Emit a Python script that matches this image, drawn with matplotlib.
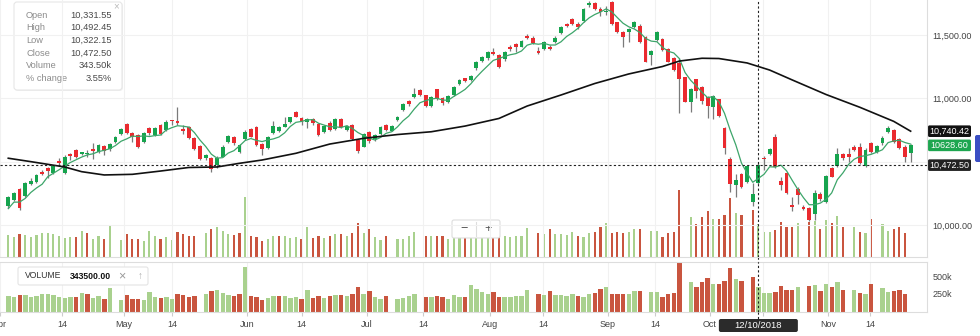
import matplotlib.pyplot as plt
from matplotlib.patches import FancyBboxPatch
import numpy as np
import pandas as pd

plt.rcParams['font.family'] = ['Liberation Sans', 'DejaVu Sans']
plt.rcParams['font.size'] = 6.5

# NIFTY 50 daily candles, 2 Apr 2018 - 26 Nov 2018
opens = [10150, 10197, 10282, 10229, 10324, 10342, 10421, 10448, 10413, 10505,
         10408, 10563, 10592, 10558, 10560, 10600, 10579, 10624, 10598, 10658,
         10718, 10795, 10724, 10710, 10658, 10763, 10710, 10789, 10750, 10826,
         10821, 10758, 10776, 10684, 10624, 10526, 10526, 10474, 10539, 10658,
         10692, 10579, 10676, 10755, 10776, 10637, 10605, 10729, 10744, 10776,
         10815, 10890, 10842, 10815, 10834, 10797, 10736, 10807, 10755, 10834,
         10750, 10789, 10671, 10618, 10732, 10679, 10718, 10789, 10744, 10829,
         10908, 10975, 11013, 11066, 11024, 10939, 11071, 11005, 10973, 11026,
         11113, 11158, 11145, 11237, 11297, 11316, 11368, 11342, 11308, 11407,
         11426, 11407, 11494, 11478, 11376, 11389, 11407, 11442, 11513, 11584,
         11626, 11584, 11613, 11734, 11755, 11705, 11679, 11763, 11600, 11521,
         11521, 11565, 11573, 11482, 11342, 11460, 11468, 11387, 11316, 11276,
         11166, 10973, 11150, 11092, 11013, 10934, 10992, 10763, 10521, 10316,
         10400, 10342, 10179, 10331.55, 10531, 10560, 10697, 10347, 10408, 10158,
         10284, 10142, 10132, 10087, 10245, 10184, 10448, 10466, 10560, 10560,
         10618, 10613, 10466, 10645, 10579, 10645, 10736, 10750, 10676, 10618,
         10566]
highs = [10229, 10263, 10290, 10339, 10369, 10403, 10434, 10458, 10474, 10526,
         10549, 10571, 10600, 10580, 10592, 10645, 10643, 10631, 10647, 10706,
         10766, 10803, 10734, 10718, 10734, 10770, 10770, 10797, 10825, 10832,
         10934, 10789, 10781, 10691, 10631, 10564, 10537, 10541, 10628, 10710,
         10703, 10639, 10746, 10766, 10785, 10647, 10699, 10823, 10785, 10855,
         10856, 10896, 10852, 10845, 10841, 10805, 10789, 10817, 10841, 10841,
         10789, 10797, 10679, 10726, 10738, 10718, 10785, 10797, 10789, 10864,
         10963, 10983, 11079, 11073, 11030, 11022, 11077, 11014, 11026, 11101,
         11152, 11164, 11184, 11298, 11334, 11373, 11395, 11350, 11377, 11417,
         11437, 11464, 11504, 11488, 11407, 11452, 11417, 11488, 11571, 11592,
         11634, 11600, 11713, 11768, 11763, 11723, 11731, 11768, 11606, 11531,
         11555, 11610, 11583, 11492, 11385, 11531, 11476, 11397, 11326, 11322,
         11172, 11081, 11156, 11101, 11022, 11026, 10998, 10774, 10539, 10403,
         10410, 10474, 10334, 10492.45, 10541, 10608, 10718, 10381, 10418, 10223,
         10302, 10158, 10142, 10276, 10257, 10395, 10458, 10605, 10572, 10605,
         10628, 10645, 10604, 10655, 10631, 10699, 10785, 10758, 10687, 10628,
         10639]
lows = [10134, 10189, 10118, 10221, 10316, 10332, 10395, 10371, 10403, 10466,
        10403, 10513, 10529, 10549, 10539, 10521, 10572, 10553, 10588, 10651,
        10710, 10718, 10658, 10608, 10651, 10710, 10703, 10710, 10742, 10793,
        10793, 10718, 10679, 10592, 10513, 10517, 10421, 10450, 10533, 10647,
        10635, 10568, 10667, 10691, 10624, 10553, 10596, 10722, 10734, 10770,
        10809, 10849, 10789, 10763, 10793, 10703, 10730, 10742, 10746, 10762,
        10742, 10671, 10571, 10612, 10647, 10663, 10710, 10742, 10738, 10821,
        10900, 10939, 11006, 11018, 10931, 10931, 10987, 10951, 10963, 11018,
        11105, 11129, 11137, 11227, 11287, 11306, 11342, 11239, 11298, 11377,
        11368, 11401, 11472, 11425, 11350, 11381, 11381, 11433, 11504, 11563,
        11579, 11547, 11606, 11723, 11695, 11650, 11658, 11579, 11513, 11403,
        11447, 11557, 11440, 11283, 11263, 11452, 11373, 11283, 11216, 10882,
        10967, 10890, 11002, 10955, 10845, 10834, 10856, 10560, 10263, 10219,
        10292, 10332, 10150, 10322.15, 10434, 10553, 10448, 10276, 10241, 10111,
        10166, 10118, 10028, 10039, 10193, 10174, 10379, 10458, 10513, 10500,
        10584, 10478, 10458, 10572, 10572, 10635, 10730, 10651, 10596, 10500,
        10500]
closes = [10219, 10255, 10132, 10329, 10350, 10395, 10403, 10429, 10466, 10487,
          10539, 10545, 10534, 10575, 10572, 10584, 10631, 10586, 10637, 10697,
          10755, 10724, 10697, 10618, 10724, 10728, 10763, 10718, 10815, 10818,
          10803, 10744, 10684, 10598, 10521, 10553, 10440, 10526, 10618, 10703,
          10645, 10631, 10736, 10697, 10631, 10598, 10692, 10780, 10772, 10795,
          10850, 10855, 10815, 10834, 10803, 10710, 10781, 10750, 10834, 10771,
          10781, 10676, 10586, 10718, 10665, 10710, 10776, 10750, 10781, 10855,
          10952, 10958, 11034, 11026, 10939, 11013, 10992, 10961, 11018, 11092,
          11145, 11137, 11176, 11284, 11324, 11363, 11350, 11249, 11368, 11389,
          11407, 11455, 11478, 11434, 11360, 11442, 11389, 11478, 11560, 11571,
          11587, 11565, 11703, 11750, 11703, 11684, 11689, 11587, 11521, 11482,
          11545, 11600, 11447, 11289, 11376, 11521, 11381, 11289, 11223, 11152,
          10973, 11073, 11060, 10981, 10939, 11018, 10863, 10605, 10321, 10355,
          10302, 10466, 10242, 10472.50, 10519, 10598, 10455, 10316, 10250, 10144,
          10237, 10129, 10039, 10255, 10205, 10387, 10380, 10560, 10526, 10539,
          10592, 10487, 10592, 10579, 10624, 10689, 10768, 10658, 10605, 10534,
          10628.60]
# traded volume in thousands (0 where none was reported)
volumes = [226, 202, 235, 230, 202, 226, 249, 249, 240, 212,
           193, 202, 202, 268, 244, 188, 221, 183, 334, 0,
           169, 235, 183, 183, 165, 273, 212, 188, 202, 174,
           254, 235, 212, 221, 0, 244, 291, 306, 268, 235,
           226, 249, 625, 221, 207, 165, 188, 221, 216, 216,
           193, 207, 183, 306, 193, 221, 197, 221, 235, 235,
           221, 249, 353, 244, 291, 202, 174, 221, 0, 179,
           188, 221, 254, 0, 212, 212, 221, 212, 179, 235,
           207, 207, 376, 315, 282, 249, 273, 212, 212, 202,
           221, 216, 301, 0, 244, 235, 287, 235, 235, 226,
           254, 221, 202, 244, 259, 315, 353, 244, 254, 249,
           254, 287, 291, 0, 273, 273, 202, 249, 259, 705,
           0, 414, 343, 414, 479, 395, 390, 432, 611, 461,
           432, 0, 494, 343.5, 263, 263, 282, 362, 306, 306,
           353, 0, 362, 376, 291, 385, 353, 423, 306, 0,
           306, 263, 249, 395, 0, 338, 273, 291, 306, 244,
           0]
# closes of 23-28 Mar, needed for the first 5-day averages
lead_closes = [9998.05, 10130.65, 10184.15, 10113.70]

# long moving average (black line), sampled at these bars
ma_long_at = [0, 4, 10, 13, 17, 22, 27, 32, 37, 41, 45, 51, 57, 63, 69, 75, 81,
              87, 92, 98, 104, 110, 116, 119, 123, 126, 131, 135, 139, 145, 151,
              157, 160]
ma_long = [10527, 10500, 10458, 10421, 10395, 10400, 10426, 10454, 10458, 10487,
           10513, 10566, 10639, 10684, 10714, 10736, 10781, 10841, 10939, 11026,
           11117, 11192, 11251, 11294, 11316, 11314, 11279, 11223, 11145, 11030,
           10929, 10818, 10740.42]

tick_pos = [-1.5, 9.5, 20.5, 29, 42.3, 52, 63.6, 73.5, 85.4, 94.8, 106.3, 114.7,
            124.4, 133.9, 145.3, 152.8]
# the Oct 14 label sits under the crosshair date chip, so it is left blank
tick_labels = ['Apr', '14', 'May', '14', 'Jun', '14', 'Jul', '14', 'Aug', '14',
               'Sep', '14', 'Oct', '', 'Nov', '14']
price_ticks = [10000, 11000, 11500]
hover = 133          # bar under the crosshair (12 Oct)
hover_date = '12/10/2018'
hover_change = '3.55%'

GREEN = '#16a44e'
RED = '#ea2a2f'
WICK = '#7a7a7a'
VGREEN = '#a9d18e'
VRED = '#c9553f'
GRID = '#f1f1f1'
TXT = '#444444'

o = np.array(opens)
h = np.array(highs)
l = np.array(lows)
c = np.array(closes)
vol = np.array(volumes)
n = len(c)
idx = np.arange(n)

ma5 = pd.Series(lead_closes + closes).rolling(5).mean().to_numpy()[len(lead_closes):]
prev = np.concatenate([[lead_closes[-1]], c[:-1]])
vcol = np.where(c >= prev, VGREEN, VRED)
bcol = np.where(c >= o, GREEN, RED)

W, H = 980, 336
fig = plt.figure(figsize=(W / 100, H / 100), dpi=100)
x0, x1 = -1.47, 162.9

# ---- price panel ----
ax = fig.add_axes([0, 1 - 256.5 / H, 927 / W, 256.5 / H])
axo = ax.twinx()
axo.bar(idx, vol, width=0.38, color=vcol, linewidth=0)
axo.set_ylim(0, 2700)
axo.set_yticks([])
for s in axo.spines.values():
    s.set_visible(False)
ax.set_zorder(axo.get_zorder() + 1)
ax.patch.set_visible(False)

for p in [10000, 10500, 11000, 11500]:
    ax.axhline(p, color=GRID, lw=0.8, zorder=0)
for t in tick_pos:
    ax.axvline(t, color=GRID, lw=0.8, zorder=0)

ax.vlines(idx, l, h, color=WICK, lw=0.9, zorder=2)
ax.bar(idx, np.maximum(np.abs(c - o), 7), bottom=np.minimum(o, c), width=0.68,
       color=bcol, linewidth=0, zorder=3)
ax.plot(idx, ma5, color='#3da56a', lw=0.9, zorder=4)
ax.plot(ma_long_at, ma_long, color='#111111', lw=1.2, zorder=4)
ax.axhline(c[hover], color='#222222', lw=0.8, ls=(0, (2, 2)), zorder=5)
ax.axvline(hover, color='#222222', lw=0.8, ls=(0, (2, 2)), zorder=5)

ax.set_xlim(x0, x1)
ax.set_ylim(9751.4, 11775.9)
ax.set_xticks([])
ax.yaxis.tick_right()
ax.set_yticks(price_ticks)
ax.set_yticklabels(['{:,.2f}'.format(p) for p in price_ticks])
ax.tick_params(axis='y', length=0, pad=4, labelsize=6.5, labelcolor=TXT)
for k in ['top', 'left']:
    ax.spines[k].set_visible(False)
for k in ['right', 'bottom']:
    ax.spines[k].set_color('#dddddd')
    ax.spines[k].set_linewidth(0.8)

# ---- volume panel ----
axv = fig.add_axes([0, 1 - 312 / H, 927 / W, 50 / H])
for t in tick_pos:
    axv.axvline(t, color=GRID, lw=0.8, zorder=0)
axv.bar(idx, vol, width=0.78, color=vcol, linewidth=0, zorder=2)
axv.axvline(hover, color='#222222', lw=0.8, ls=(0, (2, 2)), zorder=5)
axv.set_xlim(x0, x1)
axv.set_ylim(-4, 700)
axv.yaxis.tick_right()
axv.set_yticks([250, 500])
axv.set_yticklabels(['250k', '500k'])
axv.set_xticks(tick_pos)
axv.set_xticklabels(tick_labels)
axv.tick_params(axis='y', length=0, pad=4, labelsize=6.5, labelcolor=TXT)
axv.tick_params(axis='x', length=3, color='#cccccc', pad=3, labelsize=6.5,
                labelcolor=TXT)
axv.spines['left'].set_visible(False)
for k in ['top', 'right', 'bottom']:
    axv.spines[k].set_color('#dddddd')
    axv.spines[k].set_linewidth(0.8)

# ---- overlay in pixel units for the chart chrome ----
ov = fig.add_axes([0, 0, 1, 1])
ov.set_xlim(0, W)
ov.set_ylim(H, 0)
ov.axis('off')


def px(axes, xv, yv):
    dx, dy = axes.transData.transform((xv, yv))
    return dx, H - dy


hx, hy = px(ax, hover, c[hover])
ov.plot([hx, hx], [256.5, 262], color='#222222', lw=0.8, ls=(0, (2, 2)))
ov.plot([hx, hx], [312, 319], color='#222222', lw=0.8, ls=(0, (2, 2)))
ov.add_patch(FancyBboxPatch((hx - 39.5, 319), 79, 13,
                            boxstyle='round,pad=0,rounding_size=2',
                            fc='#2b2b2b', ec='none'))
ov.text(hx, 325.8, hover_date, color='white', ha='center', va='center',
        fontsize=6.8)


def tag(val, text, face):
    _, yy = px(ax, 0, val)
    ov.add_patch(FancyBboxPatch((928, yy - 5.8), 43, 11.6,
                                boxstyle='round,pad=0,rounding_size=1.5',
                                fc=face, ec='none'))
    ov.text(949.5, yy, text, color='white', ha='center', va='center',
            fontsize=6.5)


tag(ma_long[-1], '{:,.2f}'.format(ma_long[-1]), '#111111')
tag(c[-1], '{:.2f}'.format(c[-1]), '#1ea650')
tag(c[hover], '{:,.2f}'.format(c[hover]), '#222222')
ov.add_patch(FancyBboxPatch((975, 135), 8, 27, boxstyle='round,pad=0,rounding_size=2',
                            fc='#3b4fc4', ec='none'))

# zoom buttons
ov.add_patch(FancyBboxPatch((452, 220), 48, 18, boxstyle='round,pad=0,rounding_size=2',
                            fc='white', ec='#dddddd', lw=0.8))
ov.plot([476, 476], [222, 236], color='#dddddd', lw=0.8)
ov.text(464, 229, '\u2212', ha='center', va='center', fontsize=9, color='#555555')
ov.text(488, 229, '+', ha='center', va='center', fontsize=9, color='#555555')

# hover tooltip
ov.add_patch(FancyBboxPatch((15, 3), 108, 88, boxstyle='round,pad=0,rounding_size=3',
                            fc='#e9e9e9', ec='none', alpha=0.6))
ov.add_patch(FancyBboxPatch((14, 2), 108, 88, boxstyle='round,pad=0,rounding_size=3',
                            fc='white', ec='#e6e6e6', lw=0.8))
rows = [('Open', '{:,.2f}'.format(o[hover])),
        ('High', '{:,.2f}'.format(h[hover])),
        ('Low', '{:,.2f}'.format(l[hover])),
        ('Close', '{:,.2f}'.format(c[hover])),
        ('Volume', '{:.2f}k'.format(vol[hover])),
        ('% change', hover_change)]
for k, (lab, val) in enumerate(rows):
    yy = 15 + k * 12.7
    ov.text(26, yy, lab, ha='left', va='center', fontsize=6.7, color='#8c8c8c')
    ov.text(112, yy, val, ha='right', va='center', fontsize=6.7, color='#4a4a4a')
ov.text(116, 6.5, '\u00d7', ha='center', va='center', fontsize=7, color='#bbbbbb')

# volume legend chip
ov.add_patch(FancyBboxPatch((18, 267), 130, 18, boxstyle='round,pad=0,rounding_size=2',
                            fc='white', ec='#e4e4e4', lw=0.8))
ov.text(25, 276, 'VOLUME', ha='left', va='center', fontsize=6.2, color='#333333')
ov.text(70, 276.5, '{:.2f}'.format(vol[hover] * 1000), ha='left', va='center',
        fontsize=6.2, color='#111111', fontweight='bold')
ov.text(122, 276, '\u00d7', ha='center', va='center', fontsize=9, color='#999999')
ov.text(140, 276, '\u2191', ha='center', va='center', fontsize=7, color='#aaaaaa')

fig.savefig('out.png', dpi=100)
